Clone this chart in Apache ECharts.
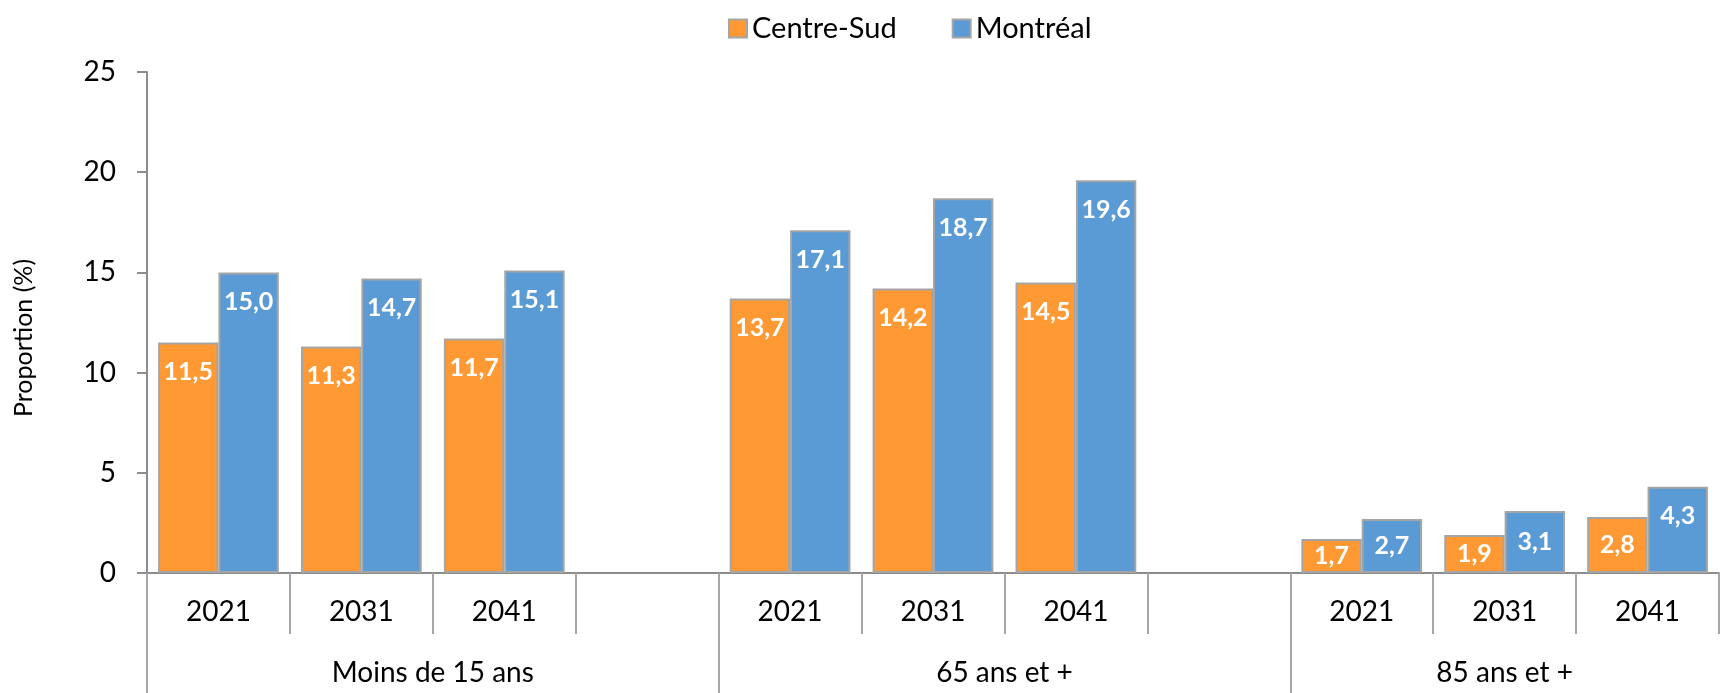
<!DOCTYPE html>
<html>
<head>
<meta charset="utf-8">
<script src="https://cdn.jsdelivr.net/npm/echarts@6/dist/echarts.min.js"></script>
<style>
html, body { margin: 0; padding: 0; background: #fff; }
#main { width: 1722px; height: 693px; }
</style>
</head>
<body>
<div id="main"></div>
<script>
// values
var years = ['2021', '2031', '2041'];
var groups = ['Moins de 15 ans', '65 ans et +', '85 ans et +'];
var centreSud = [[11.5, 11.3, 11.7], [13.7, 14.2, 14.5], [1.7, 1.9, 2.8]];
var montreal = [[15.0, 14.7, 15.1], [17.1, 18.7, 19.6], [2.7, 3.1, 4.3]];
var seriesNames = ['Centre-Sud', 'Montréal'];
var colors = ['#FF9933', '#5B9BD5'];
var yTitle = 'Proportion (%)';

var myChart = echarts.init(document.getElementById('main'));

// flat category list: each group gets its years and a blank spacer slot (not after the last one)
var cats = [];
var groupStart = [];
var groupSize = [];
groups.forEach(function (g, i) {
  groupStart.push(cats.length);
  years.forEach(function (y) { cats.push(y); });
  if (i < groups.length - 1) cats.push('');
  groupSize.push(cats.length - groupStart[i]);
});

function flat(arr) {
  var out = [];
  arr.forEach(function (grp, i) {
    grp.forEach(function (v) {
      out.push({
        value: v,
        label: v < 4 ? { position: 'inside' } : { position: 'insideTop', distance: 17 }
      });
    });
    if (i < arr.length - 1) out.push('-');
  });
  return out;
}

// helper axes on half-slot boundaries (group labels + separators)
var half = [];
var blank = [];
for (var k = 0; k <= cats.length * 2; k++) { half.push(''); blank.push(''); }
var groupTicks = {};
groups.forEach(function (g, i) {
  half[groupStart[i] * 2 + groupSize[i]] = g;
  groupTicks[groupStart[i] * 2] = true;
});

var font = 'Lato';
var axisGrey = '#8c8c8c';
var sepGrey = '#a6a6a6';

option = {
  animation: false,
  textStyle: { fontFamily: font },
  legend: {
    left: 723,
    top: 9,
    itemWidth: 18,
    itemHeight: 18,
    itemGap: 55,
    icon: 'rect',
    itemStyle: { borderColor: '#a5a5a5', borderWidth: 2 },
    textStyle: { fontSize: 29, color: '#000', fontFamily: font },
    data: seriesNames
  },
  // y axis title sits a bit below the plot's middle in the reference
  graphic: [{
    type: 'text',
    x: 24,
    y: 338,
    rotation: Math.PI / 2,
    style: {
      text: yTitle,
      font: '25px Lato',
      fill: '#000',
      align: 'center',
      verticalAlign: 'middle'
    }
  }],
  grid: { left: 147, top: 72, width: 1588, bottom: 120 },
  xAxis: [{
    type: 'category',
    data: cats,
    axisLine: { lineStyle: { color: axisGrey, width: 2 } },
    axisTick: { show: true, interval: 0, length: 61, lineStyle: { color: sepGrey, width: 2 } },
    axisLabel: { interval: 0, fontSize: 28, lineHeight: 28, color: '#000', margin: 25 }
  }, {
    type: 'category',
    data: half,
    boundaryGap: false,
    position: 'bottom',
    axisLine: { show: false },
    axisTick: {
      show: true,
      interval: function (idx) { return !!groupTicks[idx]; },
      length: 121,
      lineStyle: { color: sepGrey, width: 2 }
    },
    axisLabel: { interval: 0, fontSize: 28, lineHeight: 28, color: '#000', margin: 86 }
  }, {
    type: 'category',
    data: blank,
    boundaryGap: false,
    position: 'bottom',
    axisLine: { show: false },
    axisTick: {
      show: true,
      interval: function (idx) { return idx % 2 === 0; },
      length: 61,
      lineStyle: { color: sepGrey, width: 2 }
    },
    axisLabel: { show: false }
  }],
  yAxis: {
    type: 'value',
    min: 0,
    max: 25,
    interval: 5,
    splitLine: { show: false },
    axisLine: { show: true, lineStyle: { color: axisGrey, width: 2 } },
    axisTick: { show: true, length: 10, lineStyle: { color: axisGrey, width: 2 } },
    axisLabel: { fontSize: 28, color: '#000', margin: 31 }
  },
  series: [centreSud, montreal].map(function (d, i) {
    return {
      name: seriesNames[i],
      type: 'bar',
      xAxisIndex: 0,
      barGap: '0%',
      barCategoryGap: '15.5%',
      itemStyle: { color: colors[i], borderColor: '#a5a5a5', borderWidth: 2 },
      label: {
        show: true,
        color: '#fff',
        fontSize: 25,
        fontWeight: 'bold',
        lineHeight: 25,
        formatter: function (p) { return p.value.toFixed(1).replace('.', ','); }
      },
      data: flat(d)
    };
  })
};

myChart.setOption(option);
</script>
</body>
</html>
